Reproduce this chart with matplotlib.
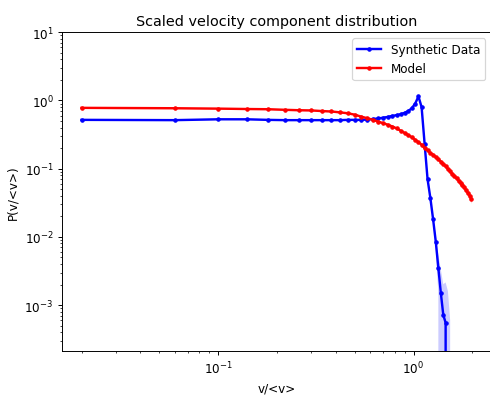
"""
Scaled velocity component distribution: synthetic histogram vs. model.
"""

import numpy as np
import matplotlib
matplotlib.use('Agg')
import matplotlib.pyplot as plt

DPI = 86.5

# bin centres (v/<v>), bin width 0.04
v_model = [0.02, 0.06, 0.10, 0.14, 0.18, 0.22, 0.26, 0.30, 0.34, 0.38,
           0.42, 0.46, 0.50, 0.54, 0.58, 0.62, 0.66, 0.70, 0.74, 0.78,
           0.82, 0.86, 0.90, 0.94, 0.98, 1.02, 1.06, 1.10, 1.14, 1.18,
           1.22, 1.26, 1.30, 1.34, 1.38, 1.42, 1.46, 1.50, 1.54, 1.58,
           1.62, 1.66, 1.70, 1.74, 1.78, 1.82, 1.86, 1.90, 1.94, 1.98]
p_model = [0.78, 0.77, 0.76, 0.75, 0.745, 0.73, 0.72, 0.715, 0.70, 0.69,
           0.67, 0.65, 0.62, 0.58, 0.55, 0.52, 0.49, 0.465, 0.44, 0.415,
           0.39, 0.36, 0.335, 0.31, 0.29, 0.265, 0.245, 0.225, 0.20, 0.185,
           0.17, 0.16, 0.148, 0.137, 0.127, 0.117, 0.108, 0.099, 0.091, 0.084,
           0.078, 0.072, 0.067, 0.062, 0.057, 0.053, 0.048, 0.044, 0.040, 0.036]
err_model = [0.015] * 25 + [0.009, 0.008, 0.008, 0.008, 0.008,
                            0.008, 0.008, 0.008, 0.008, 0.008, 0.008, 0.008,
                            0.008, 0.008, 0.007, 0.007, 0.007, 0.007, 0.007,
                            0.006, 0.006, 0.006, 0.006, 0.005, 0.005]

# synthetic histogram; the last two bins are empty
v_data = v_model[:39]
p_data = [0.52, 0.515, 0.53, 0.53, 0.52, 0.515, 0.515, 0.515, 0.515, 0.515,
          0.515, 0.52, 0.52, 0.52, 0.525, 0.535, 0.545, 0.56, 0.575, 0.595,
          0.61, 0.63, 0.66, 0.70, 0.77, 0.90, 1.15, 0.80, 0.23, 0.07,
          0.037, 0.018, 0.0085, 0.0035, 0.0015, 0.00072, 0.00055, 0.0, 0.0]
err_data = [0.012] * 22 + [0.012, 0.014, 0.015, 0.02, 0.03, 0.025, 0.01, 0.004,
                           0.003, 0.002, 0.002, 0.002, 0.0018, 0.0013, 0.0016,
                           0.0016, 0.0006]

v_model, p_model, err_model = map(np.array, (v_model, p_model, err_model))
v_data, p_data, err_data = map(np.array, (v_data, p_data, err_data))

fig = plt.figure(figsize=(490 / DPI, 397 / DPI), dpi=DPI)
ax = fig.add_axes([62 / 490, 44.7 / 397, 429 / 490, 319 / 397])

ax.plot(v_data, p_data, color='blue', marker='.', linewidth=2,
        markersize=5.5, label='Synthetic Data')
ax.fill_between(v_data, p_data - err_data, p_data + err_data,
                color='blue', alpha=0.2, linewidth=0)
ax.plot(v_model, p_model, color='red', marker='.', linewidth=2,
        markersize=5.5, label='Model')
ax.fill_between(v_model, p_model - err_model, p_model + err_model,
                color='red', alpha=0.2, linewidth=0)

ax.set_xscale('log')
ax.set_yscale('log')
ax.set_ylim(2.1e-4, 10)
ax.set_xlim(0.01589, 2.492)
ax.set_xlabel('v/<v>')
ax.set_ylabel('P(v/<v>)')
ax.set_title('Scaled velocity component distribution')
ax.legend(loc='upper right')

fig.savefig('out.png', dpi=DPI)
